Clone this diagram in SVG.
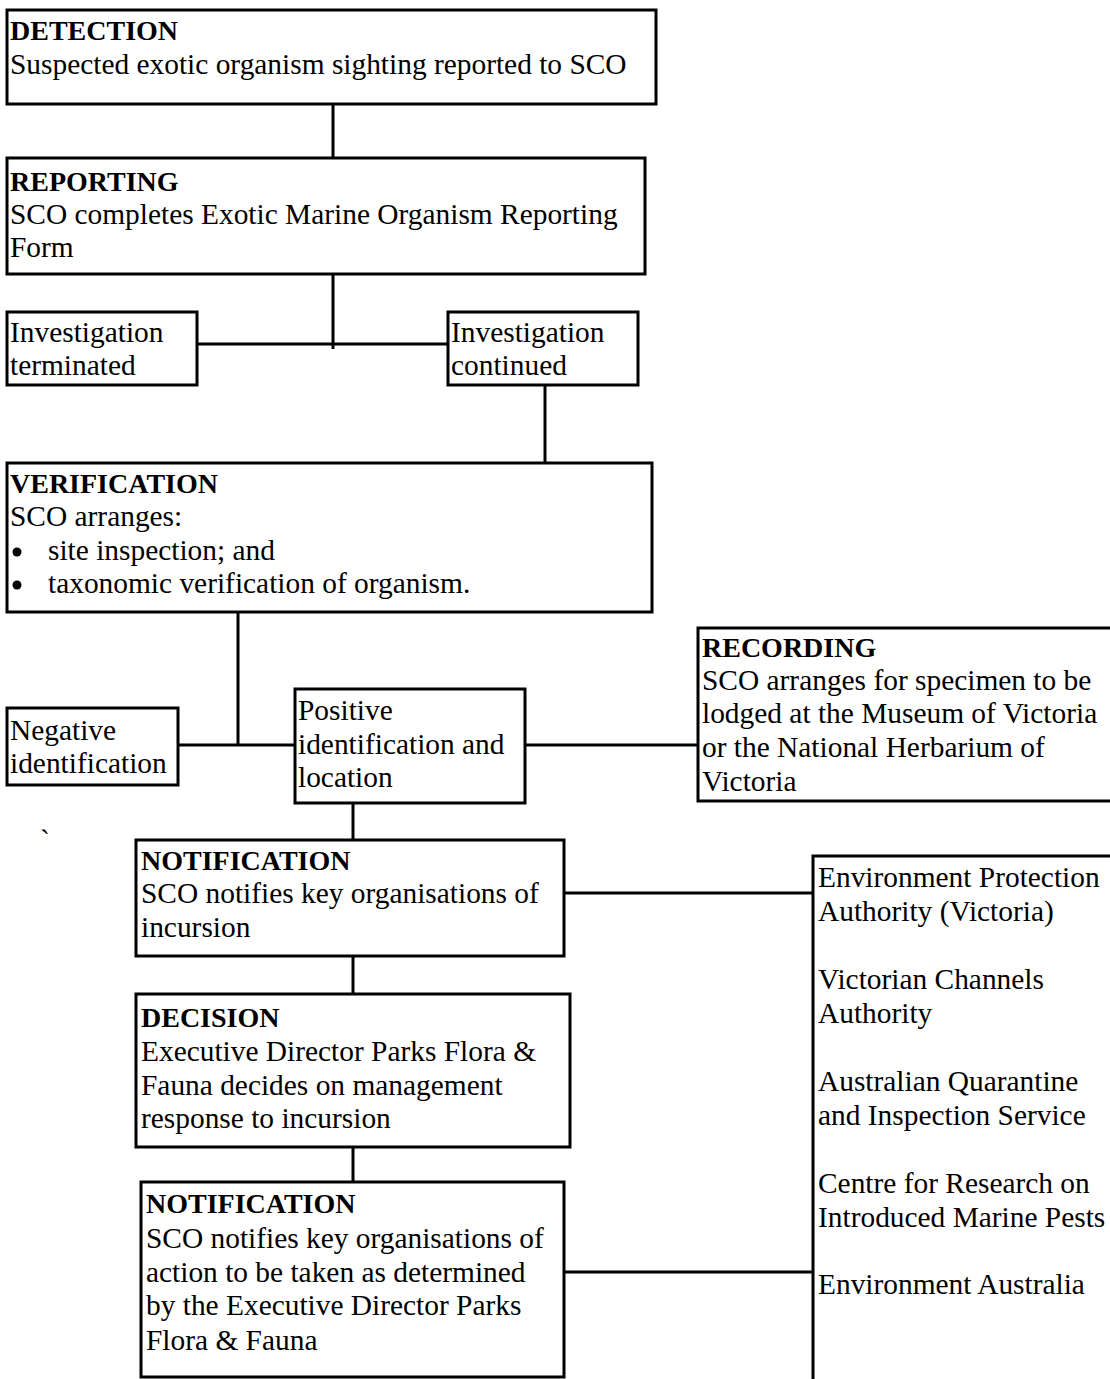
<svg xmlns="http://www.w3.org/2000/svg" width="1110" height="1379" viewBox="0 0 1110 1379">
<style>
.box{fill:#fff;stroke:#000;stroke-width:3}
.ln{stroke:#000;stroke-width:3;fill:none}
text{font-family:"Liberation Serif","Times New Roman",serif;font-size:29.4px;fill:#000}
.h{font-weight:bold;font-size:28px}
</style>
<rect width="1110" height="1379" fill="#fff"/>
<g id="connectors">
<line class="ln" x1="333" y1="104" x2="333" y2="158"/>
<line class="ln" x1="333" y1="274" x2="333" y2="349"/>
<line class="ln" x1="197" y1="344" x2="448" y2="344"/>
<line class="ln" x1="545" y1="385" x2="545" y2="463"/>
<line class="ln" x1="238" y1="612" x2="238" y2="745"/>
<line class="ln" x1="178" y1="745" x2="295" y2="745"/>
<line class="ln" x1="525" y1="745" x2="698" y2="745"/>
<line class="ln" x1="353" y1="803" x2="353" y2="840"/>
<line class="ln" x1="564" y1="893" x2="813" y2="893"/>
<line class="ln" x1="353" y1="956" x2="353" y2="994"/>
<line class="ln" x1="353" y1="1147" x2="353" y2="1182"/>
<line class="ln" x1="564" y1="1272" x2="813" y2="1272"/>
</g>
<g id="detection">
<rect class="box" x="7" y="10" width="649" height="94"/>
<text class="h" x="10" y="40">DETECTION</text>
<text x="10" y="74">Suspected exotic organism sighting reported to SCO</text>
</g>
<g id="reporting">
<rect class="box" x="7" y="158" width="638" height="116"/>
<text class="h" x="10" y="191">REPORTING</text>
<text x="10" y="224">SCO completes Exotic Marine Organism Reporting</text>
<text x="10" y="257">Form</text>
</g>
<g id="inv-terminated">
<rect class="box" x="7" y="312" width="190" height="73"/>
<text x="10" y="342">Investigation</text>
<text x="10" y="375">terminated</text>
</g>
<g id="inv-continued">
<rect class="box" x="448" y="312" width="190" height="73"/>
<text x="451" y="342">Investigation</text>
<text x="451" y="375">continued</text>
</g>
<g id="verification">
<rect class="box" x="7" y="463" width="645" height="149"/>
<text class="h" x="10" y="493">VERIFICATION</text>
<text x="10" y="526">SCO arranges:</text>
<circle cx="17" cy="552" r="4.5"/>
<text x="48" y="560">site inspection; and</text>
<circle cx="17" cy="585" r="4.5"/>
<text x="48" y="593">taxonomic verification of organism.</text>
</g>
<g id="negative">
<rect class="box" x="7" y="708" width="171" height="77"/>
<text x="10" y="740">Negative</text>
<text x="10" y="773">identification</text>
</g>
<g id="positive">
<rect class="box" x="295" y="689" width="230" height="114"/>
<text x="298" y="720">Positive</text>
<text x="298" y="754">identification and</text>
<text x="298" y="787">location</text>
</g>
<g id="recording">
<rect class="box" x="698" y="628" width="420" height="173"/>
<text class="h" x="702" y="657">RECORDING</text>
<text x="702" y="690">SCO arranges for specimen to be</text>
<text x="702" y="723">lodged at the Museum of Victoria</text>
<text x="702" y="757">or the National Herbarium of</text>
<text x="702" y="791">Victoria</text>
</g>
<text x="40" y="850">`</text>
<g id="notification1">
<rect class="box" x="136" y="840" width="428" height="116"/>
<text class="h" x="141" y="870">NOTIFICATION</text>
<text x="141" y="903">SCO notifies key organisations of</text>
<text x="141" y="937">incursion</text>
</g>
<g id="organisations">
<rect class="box" x="813" y="856" width="310" height="540"/>
<text x="818" y="887">Environment Protection</text>
<text x="818" y="921">Authority (Victoria)</text>
<text x="818" y="989">Victorian Channels</text>
<text x="818" y="1023">Authority</text>
<text x="818" y="1091">Australian Quarantine</text>
<text x="818" y="1125">and Inspection Service</text>
<text x="818" y="1193">Centre for Research on</text>
<text x="818" y="1227">Introduced Marine Pests</text>
<text x="818" y="1294">Environment Australia</text>
</g>
<g id="decision">
<rect class="box" x="136" y="994" width="434" height="153"/>
<text class="h" x="141" y="1027">DECISION</text>
<text x="141" y="1061">Executive Director Parks Flora &amp;</text>
<text x="141" y="1095">Fauna decides on management</text>
<text x="141" y="1128">response to incursion</text>
</g>
<g id="notification2">
<rect class="box" x="141" y="1182" width="423" height="195"/>
<text class="h" x="146" y="1213">NOTIFICATION</text>
<text x="146" y="1248">SCO notifies key organisations of</text>
<text x="146" y="1282">action to be taken as determined</text>
<text x="146" y="1315">by the Executive Director Parks</text>
<text x="146" y="1350">Flora &amp; Fauna</text>
</g>
</svg>
